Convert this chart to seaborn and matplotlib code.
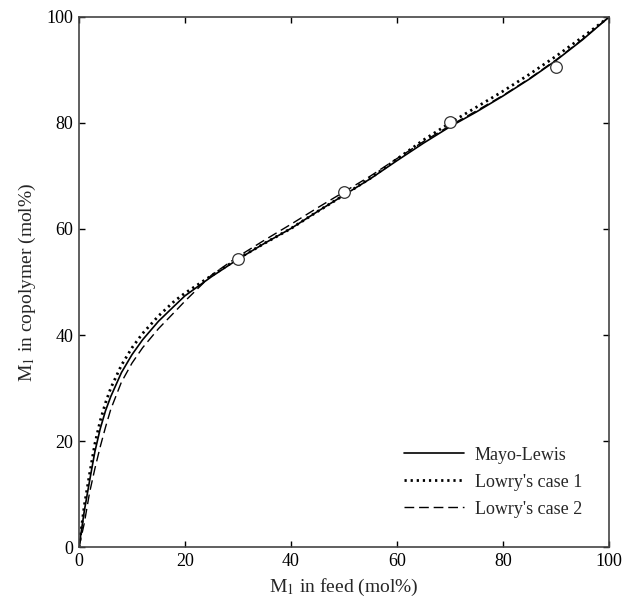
import numpy as np
import pandas as pd
import matplotlib
matplotlib.use("Agg")
import matplotlib.pyplot as plt
import seaborn as sns

# feed composition (mol% M1)
feed = [0, 1, 2, 3, 4, 5, 6, 8, 10, 12, 15, 18, 20, 25, 30, 35, 40, 45, 50,
        55, 60, 65, 70, 75, 80, 85, 90, 95, 100]

# copolymer composition
mayo_lewis = [0, 6.8, 12.5, 18.0, 22.3, 25.7, 28.4, 32.9, 36.3, 39.1, 42.6, 45.5,
              47.4, 51.0, 54.3, 57.3, 60.1, 63.3, 66.4, 69.5, 72.9, 76.2, 79.3,
              82.1, 85.1, 88.3, 91.8, 95.7, 100]
lowry_1 = [0, 7.8, 13.8, 19.5, 23.8, 27.2, 30.0, 34.3, 37.6, 40.3, 43.6, 46.4,
           47.9, 51.2, 54.4, 57.3, 60.1, 63.3, 66.4, 69.6, 73.2, 76.8, 80.0,
           83.0, 86.0, 89.2, 92.6, 96.2, 100]
lowry_2 = [0, 4.5, 10.3, 14.8, 18.9, 22.6, 26.0, 31.1, 34.7, 37.6, 41.2, 44.3,
           46.4, 51.3, 54.8, 57.9, 60.9, 64.0, 67.0, 70.0, 73.3, 76.5, 79.5,
           82.3, 85.2, 88.4, 91.9, 95.8, 100]

# experimental points
exp_feed = [30, 50, 70, 90]
exp_copo = [54.3, 66.9, 80.1, 90.5]

sns.set_theme(style="ticks")
plt.rcParams["font.family"] = ["Liberation Serif", "DejaVu Serif"]
plt.rcParams["mathtext.fontset"] = "stix"

fig, ax = plt.subplots(figsize=(6.24, 6.0), dpi=100)
plt.subplots_adjust(left=0.1266, right=0.976, bottom=0.0883, top=0.9717)

sns.lineplot(x=feed, y=mayo_lewis, ax=ax, color="black", lw=1.2,
             linestyle="-", label="Mayo-Lewis")
sns.lineplot(x=feed, y=lowry_1, ax=ax, color="black", lw=2.0,
             linestyle=(0, (0.8, 1.4)), label="Lowry's case 1")
sns.lineplot(x=feed, y=lowry_2, ax=ax, color="black", lw=1.0,
             linestyle=(0, (7, 3.5)), label="Lowry's case 2")
sns.scatterplot(x=exp_feed, y=exp_copo, ax=ax, s=70, facecolor="white",
                edgecolor="#333333", linewidth=0.9, zorder=5, legend=False)

ax.set_xlim(0, 100)
ax.set_ylim(0, 100)
ax.set_xticks(np.arange(0, 101, 20))
ax.set_yticks(np.arange(0, 101, 20))
ax.tick_params(direction="in", top=True, right=True, length=4, width=1,
               labelsize=13, colors="black", pad=4)
for sp in ax.spines.values():
    sp.set_color("#444444")
    sp.set_linewidth(1.2)

ax.set_xlabel("M$_1$ in feed (mol%)", fontsize=14, labelpad=5)
ax.set_ylabel("M$_1$ in copolymer (mol%)", fontsize=14, labelpad=6)

ax.legend(loc="lower right", bbox_to_anchor=(0.98, 0.025), frameon=False,
          fontsize=13, handlelength=3.3, labelspacing=0.55, handletextpad=0.6)

fig.savefig("out.png", dpi=100)
